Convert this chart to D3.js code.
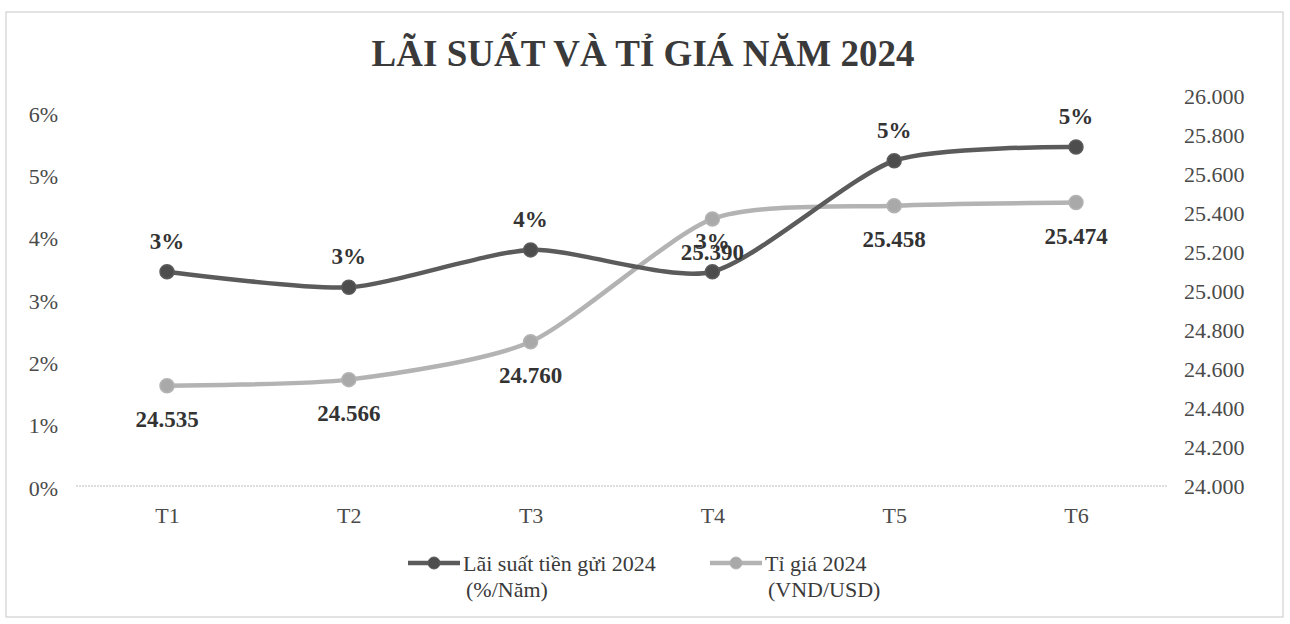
<!DOCTYPE html>
<meta charset="utf-8">
<title>Lãi suất và tỉ giá năm 2024</title>
<style>
body { margin: 0; background: #fff; }
text { font-family: "Liberation Serif", "Times New Roman", serif; }
</style>
<body>
<div id="chart"></div>
<script src="https://cdn.jsdelivr.net/npm/d3@7"></script>
<script>
  // data
  var months = ["T1", "T2", "T3", "T4", "T5", "T6"];
  var laiSuat = [0.0347, 0.0322, 0.0382, 0.0347, 0.0525, 0.0547];   // %/năm
  var tiGia = [24535, 24566, 24760, 25390, 25458, 25474];             // VND/USD
  var leftTicks = [0, 0.01, 0.02, 0.03, 0.04, 0.05, 0.06];
  var rightTicks = [24000, 24200, 24400, 24600, 24800, 25000, 25200, 25400, 25600, 25800, 26000];

  var width = 1290, height = 624;

  var svg = d3.select("#chart").append("svg")
      .attr("width", width)
      .attr("height", height);

  // chart frame
  svg.append("rect")
      .attr("x", 6).attr("y", 12)
      .attr("width", 1277).attr("height", 605)
      .attr("fill", "#fff")
      .attr("stroke", "#c8c8c8")
      .attr("stroke-width", 1);

  svg.append("text")
      .attr("x", 643).attr("y", 66)
      .attr("text-anchor", "middle")
      .attr("font-size", 37)
      .attr("font-weight", "bold")
      .attr("fill", "#3a3a3a")
      .text("LÃI SUẤT VÀ TỈ GIÁ NĂM 2024");

  var x = d3.scalePoint().domain(months).range([167, 1076]);
  var yL = d3.scaleLinear().domain([0, 0.06]).range([488, 114]);
  var yR = d3.scaleLinear().domain([24000, 26000]).range([490, 100]);

  // baseline
  svg.append("line")
      .attr("x1", 76).attr("x2", 1167)
      .attr("y1", yL(0) - 2).attr("y2", yL(0) - 2)
      .attr("stroke", "#bbb")
      .attr("stroke-dasharray", "2,1");

  var axisL = d3.axisLeft(yL).tickValues(leftTicks).tickSize(0).tickPadding(0)
      .tickFormat(d3.format(".0%"));
  var gL = svg.append("g").attr("transform", "translate(58,0)").call(axisL);

  var fmtVN = function(d) { return d3.format(",")(d).replace(/,/g, "."); };
  var axisR = d3.axisRight(yR).tickValues(rightTicks).tickSize(0).tickPadding(0)
      .tickFormat(fmtVN);
  var gR = svg.append("g").attr("transform", "translate(1184,-4)").call(axisR);

  var axisX = d3.axisBottom(x).tickSize(0).tickPadding(0);
  var gX = svg.append("g").attr("transform", "translate(0,523)").call(axisX);

  [gL, gR, gX].forEach(function(g) {
    g.select(".domain").remove();
    g.selectAll("text")
        .attr("font-family", "Liberation Serif, serif")
        .attr("font-size", 22)
        .attr("fill", "#4a4a4a");
  });
  gX.selectAll("text").attr("dy", 0);

  var curve = d3.curveCardinal.tension(0.3);

  var darkLine = "#5b5b5b", darkDot = "#4d4d4d";
  var lightLine = "#b3b3b3", lightDot = "#a9a9a9";

  function drawSeries(values, yScale, lineColor, dotColor) {
    var line = d3.line()
        .x(function(d, i) { return x(months[i]); })
        .y(function(d) { return yScale(d); })
        .curve(curve);
    svg.append("path")
        .datum(values)
        .attr("d", line)
        .attr("fill", "none")
        .attr("stroke", lineColor)
        .attr("stroke-width", 4.5)
        .attr("stroke-linecap", "round");
    svg.append("g").selectAll("circle")
        .data(values)
        .enter().append("circle")
        .attr("cx", function(d, i) { return x(months[i]); })
        .attr("cy", function(d) { return yScale(d); })
        .attr("r", 7)
        .attr("fill", dotColor)
        .attr("stroke", lineColor)
        .attr("stroke-width", 1.5);
  }

  drawSeries(tiGia, yR, lightLine, lightDot);
  drawSeries(laiSuat, yL, darkLine, darkDot);

  // data labels
  svg.append("g").selectAll("text")
      .data(laiSuat)
      .enter().append("text")
      .attr("x", function(d, i) { return x(months[i]); })
      .attr("y", function(d) { return yL(d) - 23; })
      .attr("text-anchor", "middle")
      .attr("font-size", 23)
      .attr("font-weight", "bold")
      .attr("fill", "#333")
      .text(function(d) { return d3.format(".0%")(d); });

  svg.append("g").selectAll("text")
      .data(tiGia)
      .enter().append("text")
      .attr("x", function(d, i) { return x(months[i]); })
      .attr("y", function(d) { return yR(d) + 41; })
      .attr("text-anchor", "middle")
      .attr("font-size", 23)
      .attr("font-weight", "bold")
      .attr("fill", "#333")
      .text(fmtVN);

  // legend
  var legend = [
    {x: 408, lines: ["Lãi suất tiền gửi 2024", "(%/Năm)"], line: darkLine, dot: darkDot},
    {x: 710, lines: ["Tỉ giá 2024", "(VND/USD)"], line: lightLine, dot: lightDot}
  ];
  var lg = svg.append("g").selectAll("g")
      .data(legend)
      .enter().append("g")
      .attr("transform", function(d) { return "translate(" + d.x + ",563)"; });
  lg.append("line")
      .attr("x1", 0).attr("x2", 52)
      .attr("stroke", function(d) { return d.line; })
      .attr("stroke-width", 4.5);
  lg.append("circle")
      .attr("cx", 26).attr("r", 6)
      .attr("fill", function(d) { return d.dot; })
      .attr("stroke", function(d) { return d.line; });
  lg.append("text")
      .attr("x", 55).attr("y", 8)
      .attr("font-size", 22)
      .attr("fill", "#3a3a3a")
      .text(function(d) { return d.lines[0]; });
  lg.append("text")
      .attr("x", 58).attr("y", 34)
      .attr("font-size", 22)
      .attr("fill", "#3a3a3a")
      .text(function(d) { return d.lines[1]; });
</script>
</body>
</html>
